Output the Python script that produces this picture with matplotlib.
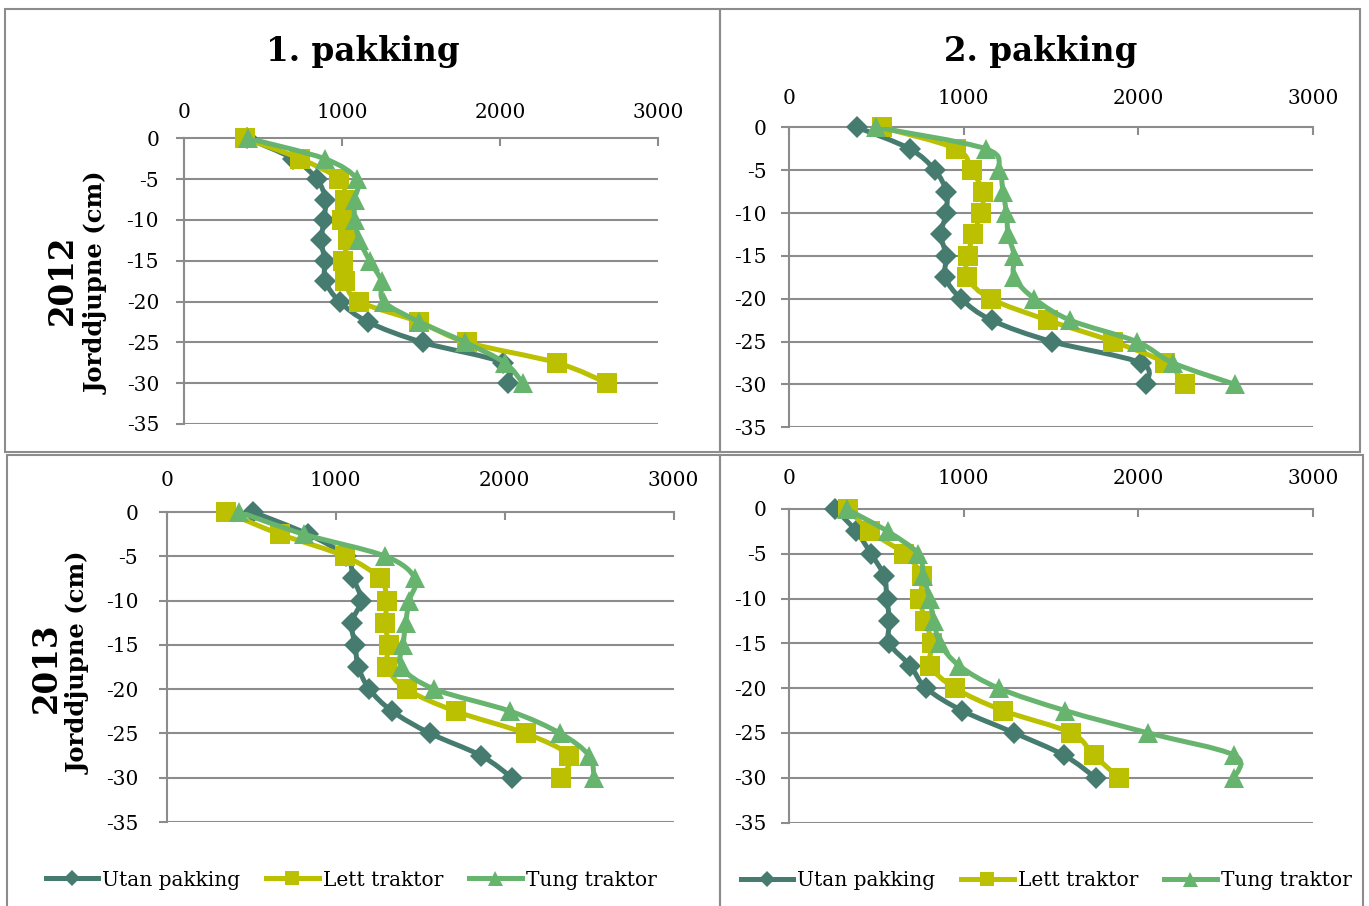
import numpy as np
import matplotlib
matplotlib.use("Agg")
import matplotlib.pyplot as plt
from matplotlib.path import Path
from matplotlib.patches import PathPatch, Rectangle
from matplotlib.lines import Line2D

plt.rcParams['font.family'] = ['DejaVu Serif']

# Soil depth (cm) and penetration resistance per treatment
depth = [0, -2.5, -5, -7.5, -10, -12.5, -15, -17.5, -20, -22.5, -25, -27.5, -30]

utan_2012_p1 = [400, 690, 840, 895, 885, 870, 890, 895, 985, 1165, 1510, 2020, 2050]
lett_2012_p1 = [385, 735, 980, 1020, 1000, 1040, 1005, 1020, 1110, 1490, 1790, 2360, 2680]
tung_2012_p1 = [405, 890, 1095, 1080, 1080, 1110, 1175, 1250, 1265, 1490, 1780, 2030, 2145]

utan_2012_p2 = [390, 690, 835, 900, 900, 870, 900, 895, 985, 1160, 1505, 2015, 2045]
lett_2012_p2 = [530, 955, 1045, 1110, 1100, 1055, 1025, 1020, 1155, 1480, 1855, 2155, 2270]
tung_2012_p2 = [500, 1125, 1205, 1225, 1245, 1255, 1290, 1290, 1405, 1610, 1990, 2200, 2555]

utan_2013_p1 = [510, 835, 1060, 1105, 1150, 1095, 1115, 1135, 1200, 1335, 1560, 1860, 2045]
lett_2013_p1 = [350, 670, 1055, 1260, 1305, 1290, 1315, 1305, 1420, 1710, 2125, 2380, 2335]
tung_2013_p1 = [430, 810, 1295, 1470, 1435, 1415, 1400, 1390, 1585, 2035, 2330, 2500, 2530]

utan_2013_p2 = [265, 385, 470, 545, 560, 575, 575, 695, 785, 990, 1290, 1575, 1755]
lett_2013_p2 = [340, 465, 660, 760, 750, 780, 820, 810, 950, 1225, 1615, 1745, 1890]
tung_2013_p2 = [330, 565, 740, 770, 805, 830, 865, 975, 1200, 1580, 2055, 2550, 2550]

series_names = ["Utan pakking", "Lett traktor", "Tung traktor"]
colors = ["#467B6F", "#BBC000", "#67B46F"]
markers = ["D", "s", "^"]
msizes = [11.5, 14, 15]

x_ticks = [0, 1000, 2000, 3000]
y_ticks = [0, -5, -10, -15, -20, -25, -30, -35]

W, H = 1369, 906
fig = plt.figure(figsize=(W / 100, H / 100), dpi=100)
fig.patch.set_facecolor("white")

GRID = "#8C8C8C"


def px_axes(left, right, top, bottom):
    return fig.add_axes([left / W, 1 - bottom / H, (right - left) / W, (bottom - top) / H])


def smooth_path(xs, ys):
    pts = np.column_stack([xs, ys]).astype(float)
    n = len(pts)
    verts = [pts[0]]
    codes = [Path.MOVETO]
    for i in range(n - 1):
        p0 = pts[i - 1] if i > 0 else pts[i]
        p1 = pts[i]
        p2 = pts[i + 1]
        p3 = pts[i + 2] if i + 2 < n else pts[i + 1]
        verts += [p1 + (p2 - p0) / 6.0, p2 - (p3 - p1) / 6.0, p2]
        codes += [Path.CURVE4] * 3
    return Path(verts, codes)


def draw_panel(ax, data, xpad, ypad):
    ax.set_xlim(0, 3000)
    ax.set_ylim(-35, 0)
    for y in y_ticks[1:]:
        ax.axhline(y, color=GRID, lw=1.5, zorder=1)
    for s in ["right", "bottom"]:
        ax.spines[s].set_visible(False)
    ax.spines["left"].set_color(GRID)
    ax.spines["left"].set_linewidth(1.5)
    ax.spines["top"].set_color(GRID)
    ax.spines["top"].set_linewidth(1.5)
    ax.xaxis.tick_top()
    ax.set_xticks(x_ticks)
    ax.set_xticklabels([str(v) for v in x_ticks])
    ax.set_yticks(y_ticks)
    ax.set_yticklabels([str(v) for v in y_ticks])
    ax.tick_params(axis="x", direction="in", length=6, width=1.5, color=GRID,
                   pad=xpad, labelsize=14.5)
    ax.tick_params(axis="y", direction="out", length=6, width=1.5, color=GRID,
                   pad=ypad, labelsize=14.5)
    for k, vals in enumerate(data):
        z = 3 + k
        patch = PathPatch(smooth_path(vals, depth), facecolor="none",
                          edgecolor=colors[k], lw=3.6, zorder=z,
                          capstyle="round", joinstyle="round")
        ax.add_patch(patch)
        ax.plot(vals, depth, linestyle="none", marker=markers[k],
                markersize=msizes[k], color=colors[k], markeredgewidth=0,
                zorder=z, clip_on=False)


ax1 = px_axes(184, 658, 138.3, 424)
ax2 = px_axes(789, 1313, 127.3, 427.3)
ax3 = px_axes(166.7, 673.5, 512, 822)
ax4 = px_axes(789, 1313, 509, 822.5)

draw_panel(ax1, [utan_2012_p1, lett_2012_p1, tung_2012_p1], 12, 12)
draw_panel(ax2, [utan_2012_p2, lett_2012_p2, tung_2012_p2], 14, 10)
draw_panel(ax3, [utan_2013_p1, lett_2013_p1, tung_2013_p1], 16, 14.5)
draw_panel(ax4, [utan_2013_p2, lett_2013_p2, tung_2013_p2], 15, 10)

# Panel frames
frames = [(5, 9, 720, 452), (720, 9, 1360, 452), (7, 455, 720, 912), (720, 455, 1363, 912)]
for (l, t, r, b) in frames:
    fig.patches.append(Rectangle((l / W, 1 - b / H), (r - l) / W, (b - t) / H,
                                 transform=fig.transFigure, fill=False,
                                 edgecolor="#8C8C8C", lw=1.5, zorder=0))

# Column titles
fig.text(363 / W, 1 - 52 / H, "1. pakking", ha="center", va="center",
         fontsize=23.5, fontweight="bold")
fig.text(1041 / W, 1 - 52 / H, "2. pakking", ha="center", va="center",
         fontsize=23.5, fontweight="bold")

# Row labels
fig.text(62 / W, 1 - 280 / H, "2012", ha="center", va="center", rotation=90,
         fontsize=23.5, fontweight="bold")
fig.text(97 / W, 1 - 283 / H, "Jorddjupne (cm)", ha="center", va="center",
         rotation=90, fontsize=17.5, fontweight="bold")
fig.text(46 / W, 1 - 668 / H, "2013", ha="center", va="center", rotation=90,
         fontsize=23.5, fontweight="bold")
fig.text(79 / W, 1 - 663 / H, "Jorddjupne (cm)", ha="center", va="center",
         rotation=90, fontsize=17.5, fontweight="bold")

# Legends
handles = [Line2D([], [], color=colors[k], lw=3.6, marker=markers[k],
                  markersize=msizes[k] * 0.72, markeredgewidth=0)
           for k in range(3)]
for cx, cy in [(351, 880), (1046, 881)]:
    fig.legend(handles, series_names, loc="center", ncol=3,
               bbox_to_anchor=(cx / W, 1 - cy / H), frameon=False,
               fontsize=14.5, handlelength=2.6, handletextpad=0.2,
               columnspacing=1.3, borderpad=0)

fig.savefig("out.png", dpi=100, facecolor="white")
